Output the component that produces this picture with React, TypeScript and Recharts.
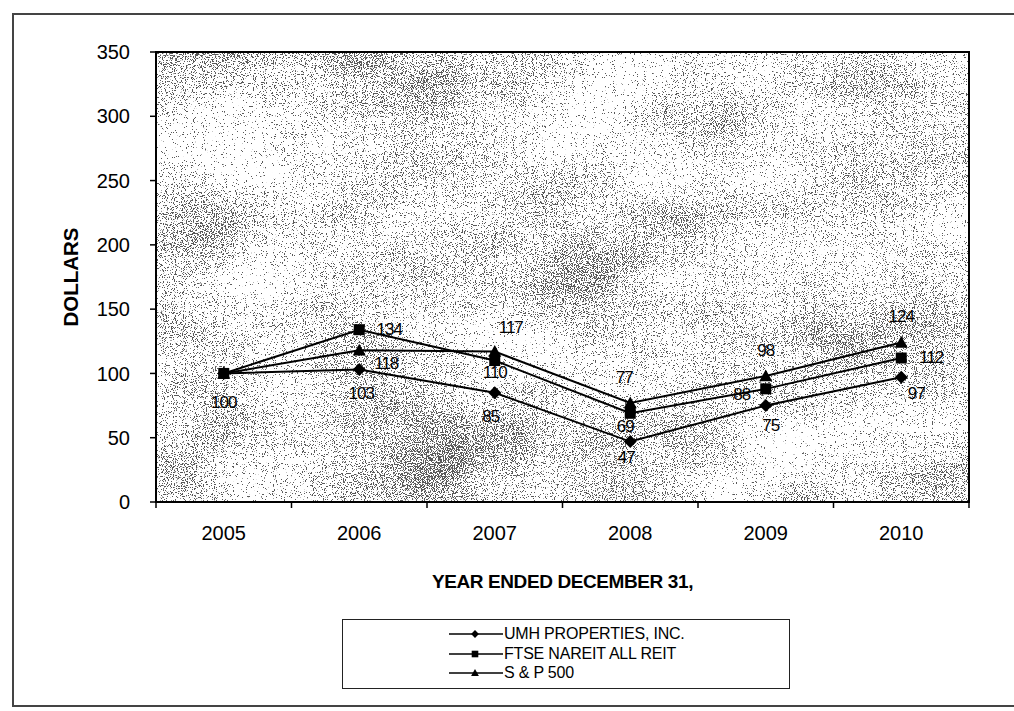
import React from "react";
import { LineChart, Line, XAxis, YAxis, ReferenceArea, LabelList } from "recharts";

const years = ["2005", "2006", "2007", "2008", "2009", "2010"];
const umh = [100, 103, 85, 47, 75, 97];
const ftse = [100, 134, 110, 69, 88, 112];
const sp500 = [100, 118, 117, 77, 98, 124];
const yTicks = [0, 50, 100, 150, 200, 250, 300, 350];

const seriesNames = ["UMH PROPERTIES, INC.", "FTSE NAREIT ALL REIT", "S & P 500"];

const data = years.map((year, i) => ({
  year,
  umh: umh[i],
  ftse: ftse[i],
  sp500: sp500[i],
}));

const W = 1014;
const H = 711;
const PLOT = { left: 156, top: 52, right: 969, bottom: 502 };
const FONT = '"Liberation Sans", Arial, Helvetica, sans-serif';
const band = (PLOT.right - PLOT.left) / years.length;

// where each value label sits relative to its point (null = not drawn)
type Pos = [number, number] | null;
const umhLabelPos: Pos[] = [[0, 29], [2, 24], [-4, 24], [-4, 16], [5, 20], [15, 16]];
const ftseLabelPos: Pos[] = [null, [30, 0], [0, 12], [-5, 13], [-24, 6], [30, -1]];
const spLabelPos: Pos[] = [null, [27, 13], [16, -24], [-6, -26], [0, -26], [0, -26]];

const makeLabel = (positions: Pos[]) => (p: any) => {
  const pos = positions[p.index];
  if (!pos) return null;
  return (
    <text
      x={p.x + pos[0]}
      y={p.y + pos[1]}
      textAnchor="middle"
      dominantBaseline="central"
      fontSize={17}
      letterSpacing={-1}
      fontFamily={FONT}
      fill="#000"
    >
      {p.value}
    </text>
  );
};

const diamond = (cx: number, cy: number, r = 6.5) =>
  `M${cx},${cy - r}L${cx + r},${cy}L${cx},${cy + r}L${cx - r},${cy}Z`;
const square = (cx: number, cy: number, s = 5.5) =>
  `M${cx - s},${cy - s}H${cx + s}V${cy + s}H${cx - s}Z`;
const triangle = (cx: number, cy: number, s = 6.5) =>
  `M${cx},${cy - s}L${cx + s},${cy + s * 0.8}L${cx - s},${cy + s * 0.8}Z`;

const markers = [diamond, square, triangle];

const makeDot = (shape: (cx: number, cy: number) => string) => (p: any) => (
  <path key={`d-${p.index}`} d={shape(p.cx, p.cy)} fill="#000" />
);

// stippled plot background
const GrainFill = (p: any) => (
  <g>
    <defs>
      <filter id="grain" x="0" y="0" width="100%" height="100%">
        <feTurbulence type="fractalNoise" baseFrequency="0.9" numOctaves="2" seed="4" result="fine" />
        <feColorMatrix in="fine" type="matrix" values="1 0 0 0 0 0 1 0 0 0 0 0 1 0 0 0 0 0 0 1" result="fineOpaque" />
        <feTurbulence type="fractalNoise" baseFrequency="0.006 0.01" numOctaves="3" seed="11" result="coarse" />
        <feColorMatrix in="coarse" type="matrix" values="1 0 0 0 0 0 1 0 0 0 0 0 1 0 0 0 0 0 0 1" result="coarseOpaque" />
        <feComposite in="fineOpaque" in2="coarseOpaque" operator="arithmetic" k1="0" k2="1" k3="0.35" k4="-0.175" result="mix" />
        <feColorMatrix in="mix" type="matrix" values="0 0 0 0 0.1 0 0 0 0 0.1 0 0 0 0 0.1 -28 0 0 0 11.1" />
      </filter>
    </defs>
    <rect x={p.x} y={p.y} width={p.width} height={p.height} fill="#fff" />
    <rect x={p.x} y={p.y} width={p.width} height={p.height} fill="#fff" filter="url(#grain)" />
    <rect x={p.x} y={p.y} width={p.width} height={p.height} fill="none" stroke="#000" strokeWidth={2} />
  </g>
);

const YearTick = (p: any) => {
  const left = p.x - band / 2;
  const right = p.x + band / 2;
  return (
    <g>
      <line x1={left} x2={left} y1={PLOT.bottom} y2={PLOT.bottom + 6} stroke="#000" strokeWidth={1.5} />
      {p.index === years.length - 1 && (
        <line x1={right} x2={right} y1={PLOT.bottom} y2={PLOT.bottom + 6} stroke="#000" strokeWidth={1.5} />
      )}
      <text x={p.x} y={p.y} dy="0.71em" textAnchor="middle" fontSize={20} fontFamily={FONT} fill="#000">
        {p.payload.value}
      </text>
    </g>
  );
};

const LegendBox = () => (
  <div
    style={{
      position: "absolute",
      left: 342,
      top: 619,
      width: 446,
      height: 68,
      border: "1.5px solid #222",
      fontFamily: FONT,
      fontSize: 16,
      letterSpacing: -0.2,
    }}
  >
    {seriesNames.map((name, i) => (
      <div
        key={name}
        style={{ position: "absolute", left: 106, top: 5 + i * 19.5, height: 18, display: "flex", alignItems: "center" }}
      >
        <svg width={54} height={16}>
          <line x1={0} x2={54} y1={8} y2={8} stroke="#000" strokeWidth={1.5} />
          <path d={markers[i](26, 8)} fill="#000" transform="translate(26 8) scale(0.6) translate(-26 -8)" />
        </svg>
        <span style={{ marginLeft: 1 }}>{name}</span>
      </div>
    ))}
  </div>
);

export default function App() {
  return (
    <div style={{ position: "absolute", left: 0, top: 0, width: W, height: H, background: "#fff", overflow: "hidden" }}>
      <div
        style={{
          position: "absolute",
          left: 12,
          top: 13,
          width: W,
          height: 690,
          borderTop: "2px solid #444",
          borderLeft: "2px solid #444",
          borderBottom: "2px solid #444",
        }}
      />
      <div style={{ position: "absolute", left: 0, top: 0 }}>
        <LineChart
          width={W}
          height={H}
          data={data}
          margin={{ top: PLOT.top, right: W - PLOT.right, bottom: 149, left: 0 }}
        >
          <ReferenceArea y1={0} y2={350} shape={GrainFill} ifOverflow="visible" />
          <XAxis
            dataKey="year"
            scale="band"
            height={60}
            axisLine={{ stroke: "#000", strokeWidth: 2 }}
            tickLine={false}
            tickSize={6}
            tickMargin={18}
            tick={YearTick}
            interval={0}
            label={{
              content: (p: any) => (
                <text
                  x={p.viewBox.x + p.viewBox.width / 2}
                  y={PLOT.bottom + 79}
                  textAnchor="middle"
                  dominantBaseline="central"
                  fontSize={19}
                  fontWeight="bold"
                  letterSpacing={-0.4}
                  fontFamily={FONT}
                  fill="#000"
                >
                  YEAR ENDED DECEMBER 31,
                </text>
              ),
            }}
          />
          <YAxis
            width={PLOT.left}
            domain={[0, 350]}
            ticks={yTicks}
            interval={0}
            axisLine={{ stroke: "#000", strokeWidth: 2 }}
            tickLine={{ stroke: "#000", strokeWidth: 1.5 }}
            tickSize={6}
            tickMargin={20}
            tick={{ fontSize: 20, fill: "#000", fontFamily: FONT }}
            label={{
              content: () => (
                <text
                  x={70}
                  y={(PLOT.top + PLOT.bottom) / 2}
                  transform={`rotate(-90 70 ${(PLOT.top + PLOT.bottom) / 2})`}
                  textAnchor="middle"
                  dominantBaseline="central"
                  fontSize={20.5}
                  fontWeight="bold"
                  fontFamily={FONT}
                  fill="#000"
                >
                  DOLLARS
                </text>
              ),
            }}
          />
          <Line
            dataKey="umh"
            name={seriesNames[0]}
            stroke="#000"
            strokeWidth={2}
            dot={makeDot(diamond)}
            activeDot={false}
            isAnimationActive={false}
          >
            <LabelList dataKey="umh" content={makeLabel(umhLabelPos)} />
          </Line>
          <Line
            dataKey="ftse"
            name={seriesNames[1]}
            stroke="#000"
            strokeWidth={2}
            dot={makeDot(square)}
            activeDot={false}
            isAnimationActive={false}
          >
            <LabelList dataKey="ftse" content={makeLabel(ftseLabelPos)} />
          </Line>
          <Line
            dataKey="sp500"
            name={seriesNames[2]}
            stroke="#000"
            strokeWidth={2}
            dot={makeDot(triangle)}
            activeDot={false}
            isAnimationActive={false}
          >
            <LabelList dataKey="sp500" content={makeLabel(spLabelPos)} />
          </Line>
        </LineChart>
      </div>
      <LegendBox />
    </div>
  );
}
